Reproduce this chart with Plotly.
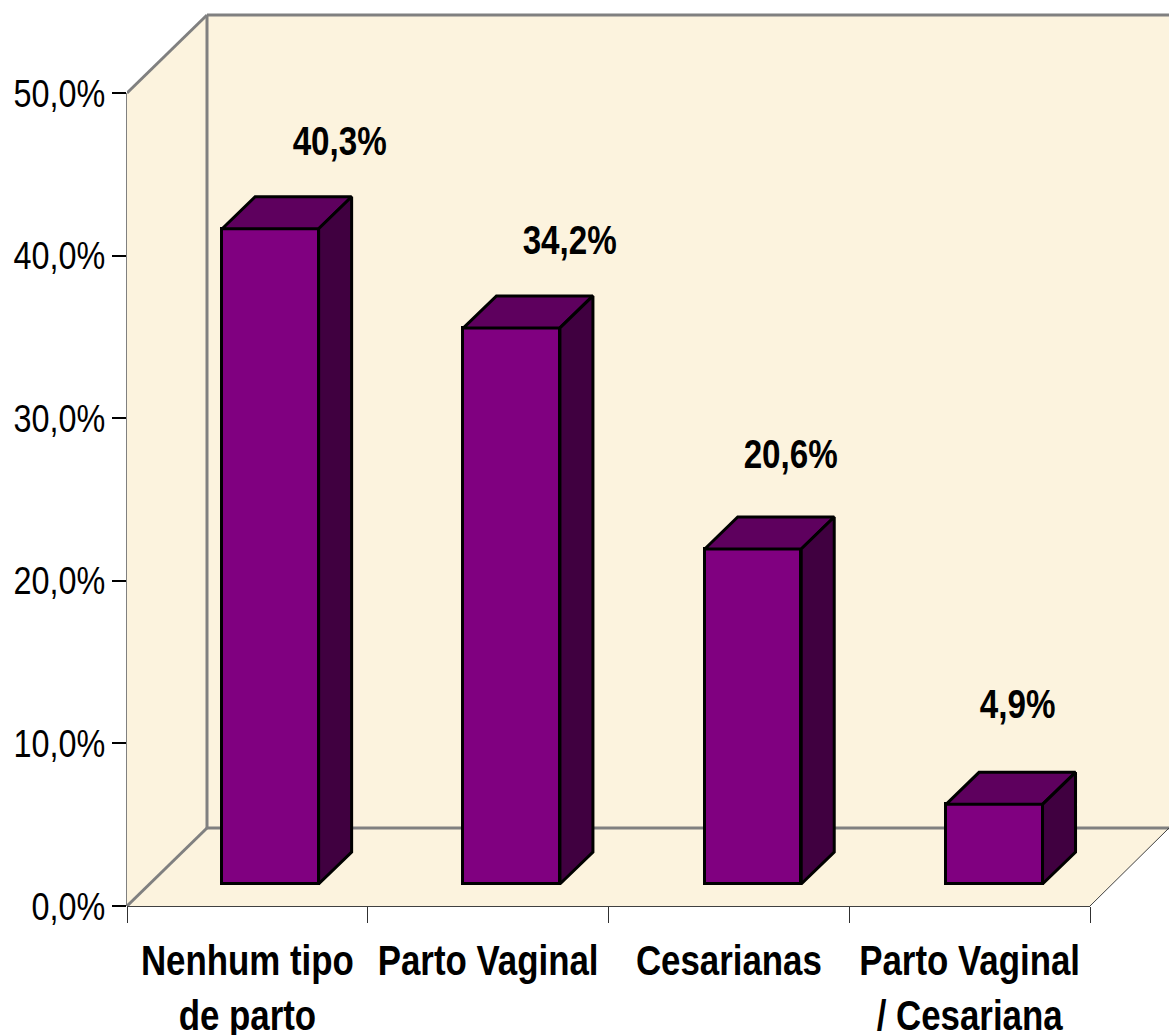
import plotly.graph_objects as go

categories = ["Nenhum tipo<br>de parto", "Parto Vaginal", "Cesarianas", "Parto Vaginal<br>/ Cesariana"]
values = [40.3, 34.2, 20.6, 4.9]
y_ticks = [0, 10, 20, 30, 40, 50]
y_tick_labels = ["0,0%", "10,0%", "20,0%", "30,0%", "40,0%", "50,0%"]
# pixel offsets of the data labels relative to each bar's centre/top
label_dx = [69, 58, 38, 23]
label_dy = [88, 88, 95, 100]

# geometry of the pseudo-3D projection (pixels)
PX_LEFT, PX_RIGHT_AX, PX_ZERO, PX_FIFTY = 127, 1090, 906, 93
PX_W, PX_H, PX_TOP = 1169, 1035, 5
ux = (PX_RIGHT_AX - PX_LEFT) / 4
uy = (PX_ZERO - PX_FIFTY) / 50
FX, FY = 80 / ux, 78 / uy        # floor depth
GX, GY = 23 / ux, 22 / uy        # bar gap from the front
BX, BY = 33 / ux, 32 / uy        # bar depth
BW = 96.5 / ux
PITCH = 241.3 / ux
x_max = (PX_W - PX_LEFT) / ux
y_max = (PX_ZERO - PX_TOP) / uy

CREAM = "#FCF3DE"
GRAY = "#808080"
FRONT, TOP, SIDE = "#800080", "#5E005E", "#400040"
FONT = "Liberation Sans"
EDGE = 3

fig = go.Figure()
centers = [0.5 + GX + i * PITCH for i in range(len(values))]
fig.add_trace(go.Bar(
    x=centers, y=values, base=GY, width=BW,
    marker=dict(color=FRONT, line=dict(color="black", width=EDGE)),
    showlegend=False, hoverinfo="skip"))

for c, v in zip(centers, values):
    l, r = c - BW / 2, c + BW / 2
    t = GY + v
    fig.add_trace(go.Scatter(
        x=[l, l + BX, r + BX, r, l], y=[t, t + BY, t + BY, t, t],
        mode="lines", fill="toself", fillcolor=TOP,
        line=dict(color="black", width=EDGE), showlegend=False, hoverinfo="skip"))
    fig.add_trace(go.Scatter(
        x=[r, r + BX, r + BX, r, r], y=[t, t + BY, GY + BY, GY, t],
        mode="lines", fill="toself", fillcolor=SIDE,
        line=dict(color="black", width=EDGE), showlegend=False, hoverinfo="skip"))


def poly(points, **kw):
    path = "M " + " L ".join(f"{x},{y}" for x, y in points) + " Z"
    return dict(type="path", path=path, xref="x", yref="y", layer="below", **kw)


def seg(x0, y0, x1, y1, color, width, xref="x", yref="y"):
    return dict(type="line", x0=x0, y0=y0, x1=x1, y1=y1, xref=xref, yref=yref,
                layer="below", line=dict(color=color, width=width))


shapes = [
    poly([(0, 0), (FX, FY), (FX, 50 + FY), (0, 50)], fillcolor=CREAM, line=dict(width=0)),
    poly([(FX, FY), (x_max, FY), (x_max, 50 + FY), (FX, 50 + FY)], fillcolor=CREAM, line=dict(width=0)),
    poly([(0, 0), (4, 0), (x_max, FY), (FX, FY)], fillcolor=CREAM, line=dict(width=0)),
    seg(FX, FY, FX, 50 + FY, GRAY, 3),
    seg(FX, 50 + FY, x_max, 50 + FY, GRAY, 3),
    seg(FX, FY, x_max, FY, GRAY, 3),
    seg(0, 50, FX, 50 + FY, GRAY, 3),
    seg(0, 0, FX, FY, GRAY, 3),
    seg(4, 0, x_max, FY, "#404040", 1),
    seg(0, 0, 0, 50, GRAY, 2, xref="paper"),
    seg(0, 0, 4, 0, "black", 1.5, yref="paper"),
]

annotations = [
    dict(x=c + dx / ux, y=GY + v + dy / uy, xref="x", yref="y", showarrow=False,
         text=f"{v:.1f}%".replace(".", ","), xanchor="center", yanchor="middle",
         font=dict(family=FONT, size=40, color="black", weight="bold"))
    for c, v, dx, dy in zip(centers, values, label_dx, label_dy)
]

fig.update_layout(
    width=PX_W, height=PX_H, autosize=False, bargap=0,
    margin=dict(l=PX_LEFT, r=0, t=PX_TOP, b=PX_H - PX_ZERO, pad=0),
    paper_bgcolor="white", plot_bgcolor="white",
    shapes=shapes, annotations=annotations, showlegend=False,
    xaxis=dict(range=[0, x_max], showgrid=False, zeroline=False, showline=False, automargin=False,
               tickmode="array", tickvals=[i + 0.5 for i in range(4)], ticktext=categories,
               ticklen=0, ticks="outside", tickwidth=0, ticklabelstandoff=18, tickangle=0,
               tickfont=dict(family=FONT, size=42, color="black", weight="bold"),
               minor=dict(tickmode="array", tickvals=[0, 1, 2, 3, 4], ticks="outside",
                          ticklen=16, tickwidth=1, tickcolor="#303030", showgrid=False)),
    yaxis=dict(range=[0, y_max], showgrid=False, zeroline=False, showline=False, automargin=False,
               tickmode="array", tickvals=y_ticks, ticktext=y_tick_labels,
               ticks="outside", ticklen=14, tickwidth=1.5, tickcolor="black",
               ticklabelstandoff=-1,
               tickfont=dict(family=FONT, size=39, color="black")),
)

# No narrow sans is installed: condense the text horizontally, as Arial Narrow is Arial at 82 %.
post = """
document.body.style.margin='0';
document.documentElement.style.overflow='hidden';
var gd=document.getElementById('{plot_id}');
function narrow(){
  gd.querySelectorAll('text').forEach(function(t){
    if(t.getAttribute('data-nw'))return;
    var x=parseFloat(t.getAttribute('x'))||0, old=t.getAttribute('transform')||'';
    t.setAttribute('transform',old+' translate('+x+',0) scale(0.83,1) translate('+(-x)+',0)');
    t.setAttribute('data-nw','1');
  });
}
narrow();
if(gd.on)gd.on('plotly_afterplot',narrow);
setTimeout(narrow,50);
"""
fig.write_html("out.html", config=dict(displayModeBar=False), post_script=post)
